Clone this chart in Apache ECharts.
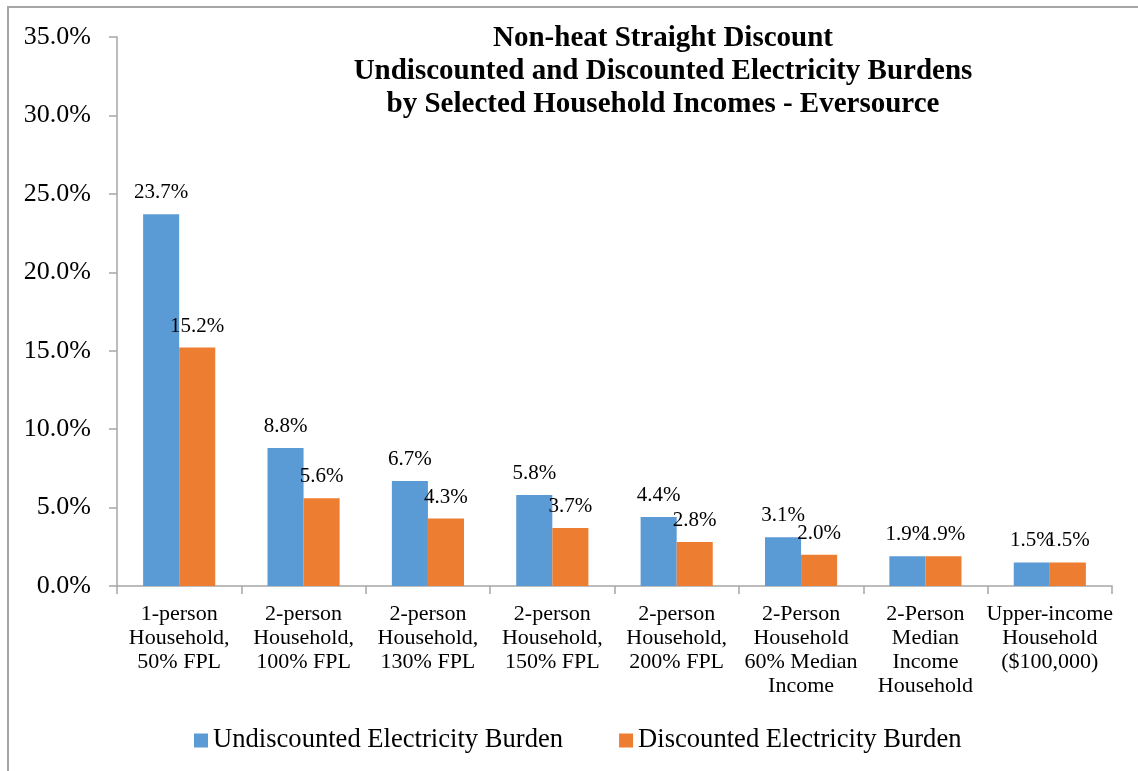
<!DOCTYPE html>
<html>
<head>
<meta charset="utf-8">
<script src="https://cdn.jsdelivr.net/npm/echarts@6/dist/echarts.min.js"></script>
<style>
  html, body { margin: 0; padding: 0; background: #fff; }
  #chart { width: 1138px; height: 771px; }
</style>
</head>
<body>
<div id="chart"></div>
<script>
// categories along the x axis
var categories = [
  '1-person\nHousehold,\n50% FPL',
  '2-person\nHousehold,\n100% FPL',
  '2-person\nHousehold,\n130% FPL',
  '2-person\nHousehold,\n150% FPL',
  '2-person\nHousehold,\n200% FPL',
  '2-Person\nHousehold\n60% Median\nIncome',
  '2-Person\nMedian\nIncome\nHousehold',
  'Upper-income\nHousehold\n($100,000)'
];
var undiscounted = [23.7, 8.8, 6.7, 5.8, 4.4, 3.1, 1.9, 1.5];
var discounted = [15.2, 5.6, 4.3, 3.7, 2.8, 2.0, 1.9, 1.5];
var seriesNames = ['Undiscounted Electricity Burden', 'Discounted Electricity Burden'];

var font = '"Liberation Serif", "Times New Roman", serif';

var chart = echarts.init(document.getElementById('chart'));

var barLabel = {
  show: true,
  position: 'top',
  distance: 11,
  color: '#000',
  fontFamily: font,
  fontSize: 21,
  formatter: function (p) { return p.value.toFixed(1) + '%'; }
};

var option = {
  animation: false,
  backgroundColor: '#fff',
  textStyle: { fontFamily: font },
  graphic: [{
    type: 'rect',
    shape: { x: 8, y: 7, width: 1200, height: 800 },
    style: { fill: 'none', stroke: '#a6a6a6', lineWidth: 2 },
    silent: true
  }],
  title: {
    text: 'Non-heat Straight Discount\nUndiscounted and Discounted Electricity Burdens\nby Selected Household Incomes - Eversource',
    left: 658,
    textAlign: 'center',
    top: 17,
    textStyle: {
      fontFamily: font,
      fontWeight: 'bold',
      fontSize: 29,
      lineHeight: 33,
      color: '#000'
    }
  },
  legend: {
    data: seriesNames,
    left: 189,
    top: 722,
    itemWidth: 14,
    itemHeight: 14,
    itemGap: 56,
    icon: 'rect',
    textStyle: { fontFamily: font, fontSize: 26.6, color: '#000' }
  },
  grid: {
    left: 117,
    right: 26,
    top: 37,
    bottom: 185,
    containLabel: false
  },
  xAxis: {
    type: 'category',
    data: categories,
    axisLine: { lineStyle: { color: '#a6a6a6', width: 1.5 } },
    axisTick: { show: true, alignWithLabel: false, length: 8, lineStyle: { color: '#a6a6a6', width: 1.5 } },
    axisLabel: {
      interval: 0,
      margin: 16,
      color: '#000',
      fontFamily: font,
      fontSize: 22,
      lineHeight: 24
    }
  },
  yAxis: {
    type: 'value',
    min: 0,
    max: 35,
    interval: 5,
    splitLine: { show: false },
    axisLine: { show: true, lineStyle: { color: '#a6a6a6', width: 1.5 } },
    axisTick: { show: true, length: 8, lineStyle: { color: '#a6a6a6', width: 1.5 } },
    axisLabel: {
      margin: 26,
      color: '#000',
      fontFamily: font,
      fontSize: 26,
      formatter: function (v) { return v.toFixed(1) + '%'; }
    }
  },
  series: [
    {
      name: seriesNames[0],
      type: 'bar',
      data: undiscounted,
      itemStyle: { color: '#5B9BD5' },
      barGap: '0%',
      barCategoryGap: '42%',
      label: barLabel
    },
    {
      name: seriesNames[1],
      type: 'bar',
      data: discounted,
      itemStyle: { color: '#ED7D31' },
      barGap: '0%',
      barCategoryGap: '42%',
      label: barLabel
    }
  ]
};

chart.setOption(option);
</script>
</body>
</html>
